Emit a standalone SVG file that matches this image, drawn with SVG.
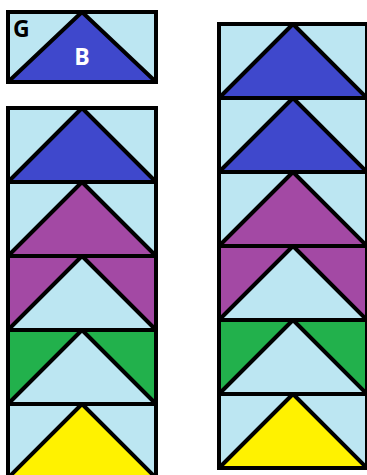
<svg xmlns="http://www.w3.org/2000/svg" width="367" height="475" viewBox="0 0 367 475">
<style>
.c rect, .c polygon { stroke: #000; stroke-width: 4; }
.c polygon { stroke-linejoin: bevel; }
.lb { fill: #BCE6F2; }
.bl { fill: #3F48CC; }
.pu { fill: #A349A4; }
.gr { fill: #22B14C; }
.ye { fill: #FFF200; }
.t { font-family: "Open Sans", "DejaVu Sans", sans-serif; font-weight: bold; font-size: 23px; }
</style>
<rect width="367" height="475" fill="#fff"/>
<g id="legend" class="c">
  <rect class="lb" x="8" y="12" width="148" height="70"/>
  <polygon class="bl" points="82,12 156,82 8,82"/>
  <text class="t" x="13" y="37" fill="#000">G</text>
  <text class="t" x="82" y="65" fill="#fff" text-anchor="middle">B</text>
</g>
<g id="left-column">
  <g id="l1" class="c"><rect class="lb" x="8" y="108" width="148" height="74"/><polygon class="bl" points="82,108 156,182 8,182"/></g>
  <g id="l2" class="c"><rect class="lb" x="8" y="182" width="148" height="74"/><polygon class="pu" points="82,182 156,256 8,256"/></g>
  <g id="l3" class="c"><rect class="pu" x="8" y="256" width="148" height="74"/><polygon class="lb" points="82,256 156,330 8,330"/></g>
  <g id="l4" class="c"><rect class="gr" x="8" y="330" width="148" height="74"/><polygon class="lb" points="82,330 156,404 8,404"/></g>
  <g id="l5" class="c"><rect class="lb" x="8" y="404" width="148" height="74"/><polygon class="ye" points="82,404 156,478 8,478"/></g>
</g>
<g id="right-column">
  <g id="r1" class="c"><rect class="lb" x="219" y="24" width="148" height="74"/><polygon class="bl" points="293,24 367,98 219,98"/></g>
  <g id="r2" class="c"><rect class="lb" x="219" y="98" width="148" height="74"/><polygon class="bl" points="293,98 367,172 219,172"/></g>
  <g id="r3" class="c"><rect class="lb" x="219" y="172" width="148" height="74"/><polygon class="pu" points="293,172 367,246 219,246"/></g>
  <g id="r4" class="c"><rect class="pu" x="219" y="246" width="148" height="74"/><polygon class="lb" points="293,246 367,320 219,320"/></g>
  <g id="r5" class="c"><rect class="gr" x="219" y="320" width="148" height="74"/><polygon class="lb" points="293,320 367,394 219,394"/></g>
  <g id="r6" class="c"><rect class="lb" x="219" y="394" width="148" height="74"/><polygon class="ye" points="293,394 367,468 219,468"/></g>
</g>
<g id="connectors"/>
</svg>
